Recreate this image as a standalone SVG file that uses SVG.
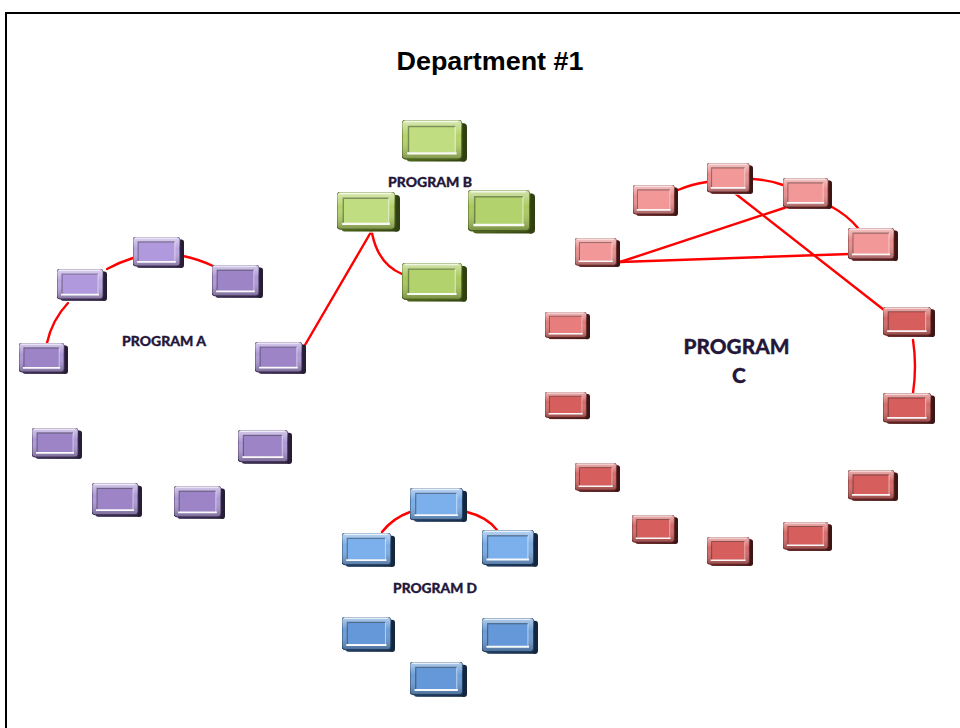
<svg xmlns="http://www.w3.org/2000/svg" xmlns:xlink="http://www.w3.org/1999/xlink" width="960" height="728" viewBox="0 0 960 728">
  <style>
    .title { font-family: "Liberation Sans", Arial, sans-serif; font-weight: bold; font-size: 26px; fill: #000; }
    .lbl { font-family: Lato, "Open Sans", sans-serif; font-weight: 900; fill: #24173a; stroke: #24173a; stroke-width: 0.3; }
    .wire { fill: none; stroke: #ff0000; stroke-width: 2.4; stroke-linecap: round; }
    .purple { --dark: #3f3058; --frame: #ad98d6; --face: #9c84c6; }
    .purple.lt { --frame: #bba7e0; --face: #b099dc; }
    .green { --dark: #4f681c; --frame: #a9c95e; --face: #b2d26d; }
    .green.lt { --frame: #b4d36b; --face: #c0dd82; }
    .blue { --dark: #213f66; --frame: #6a9cd6; --face: #6598d8; }
    .blue.lt { --frame: #7aace6; --face: #7cb0ec; }
    .red { --dark: #652222; --frame: #d46a68; --face: #d65e5c; }
    .red.lt { --frame: #e98e8e; --face: #f39898; }
    .red.md { --frame: #e07b7a; --face: #e77d7c; }
  </style>
  <defs>
    <linearGradient id="sheen" x1="0" y1="0" x2="0" y2="1">
      <stop offset="0" stop-color="#fff" stop-opacity="0.5"/>
      <stop offset="0.4" stop-color="#fff" stop-opacity="0"/>
      <stop offset="1" stop-color="#000" stop-opacity="0.3"/>
    </linearGradient>
    <linearGradient id="side" x1="0" y1="0" x2="1" y2="0">
      <stop offset="0" stop-color="#000" stop-opacity="0"/>
      <stop offset="1" stop-color="#000" stop-opacity="0.4"/>
    </linearGradient>
    <!-- bevelled block, drawn in a 50x33 box and stretched per node -->
    <symbol id="box" viewBox="0 0 50 33" preserveAspectRatio="none">
      <rect x="3.5" y="2.5" width="46.5" height="29.5" rx="3" style="fill:var(--dark)"/>
      <rect x="3.5" y="2.5" width="46.5" height="29.5" rx="3" fill="url(#side)"/>
      <rect x="0" y="0" width="46" height="30" rx="3" style="fill:var(--frame);stroke:var(--dark)" stroke-width="0.9"/>
      <rect x="0" y="0" width="46" height="30" rx="3" fill="url(#sheen)"/>
      <rect x="5" y="5" width="36" height="20" style="fill:var(--face)"/>
      <path d="M5,25 V5 H41" fill="none" stroke="#000" stroke-opacity="0.35" stroke-width="1.1"/>
      <path d="M41,5 V25" fill="none" stroke="#fff" stroke-opacity="0.5" stroke-width="1"/>
      <path d="M4,25.6 H42" fill="none" stroke="#fff" stroke-width="1.8" stroke-opacity="0.95"/>
      <path d="M2,1.3 H43" fill="none" stroke="#fff" stroke-width="1" stroke-opacity="0.7"/>
      <rect x="2" y="31.8" width="44" height="1.2" fill="#fff" opacity="0.6"/>
    </symbol>
  </defs>

  <rect x="0" y="0" width="960" height="728" fill="#fff"/>
  <rect x="6" y="13" width="980" height="740" fill="none" stroke="#000" stroke-width="2"/>

  <text class="title" x="490" y="70" text-anchor="middle" textLength="187" lengthAdjust="spacingAndGlyphs">Department #1</text>

  <!-- connectors -->
  <g id="connectors">
    <path class="wire" d="M47,343 Q52,320 68,303"/>
    <path class="wire" d="M107,269 Q120,262 133,258"/>
    <path class="wire" d="M183,256 Q198,259 213,266"/>
    <path class="wire" d="M298,357 L371,232"/>
    <path class="wire" d="M372,233 Q378,264 402,274"/>
    <path class="wire" d="M382,532 Q393,518 410,512"/>
    <path class="wire" d="M467,512 Q487,517 497,530"/>
    <path class="wire" d="M678,190 Q692,184 707,182"/>
    <path class="wire" d="M753,179 Q769,180 783,185"/>
    <path class="wire" d="M832,207 Q847,215 858,228"/>
    <path class="wire" d="M620,262 L787,207"/>
    <path class="wire" d="M620,262 L850,254"/>
    <path class="wire" d="M732,191 L884,310"/>
    <path class="wire" d="M913,340 Q917,366 913,393"/>
  </g>

  <!-- Program A -->
  <g id="prog-a">
    <text class="lbl" x="164" y="346" font-size="13" text-anchor="middle" textLength="84" lengthAdjust="spacingAndGlyphs">PROGRAM A</text>
    <g id="a1" class="purple lt"><use xlink:href="#box" x="133" y="237" width="51" height="32"/></g>
    <g id="a2" class="purple lt"><use xlink:href="#box" x="57" y="269" width="50" height="33"/></g>
    <g id="a3" class="purple"><use xlink:href="#box" x="212" y="265" width="51" height="34"/></g>
    <g id="a4" class="purple"><use xlink:href="#box" x="19" y="343" width="49" height="32"/></g>
    <g id="a5" class="purple"><use xlink:href="#box" x="255" y="342" width="51" height="33"/></g>
    <g id="a6" class="purple"><use xlink:href="#box" x="32" y="428" width="50" height="32"/></g>
    <g id="a7" class="purple"><use xlink:href="#box" x="238" y="430" width="54" height="35"/></g>
    <g id="a8" class="purple"><use xlink:href="#box" x="92" y="483" width="50" height="35"/></g>
    <g id="a9" class="purple"><use xlink:href="#box" x="174" y="486" width="51" height="34"/></g>
  </g>

  <!-- Program B -->
  <g id="prog-b">
    <text class="lbl" x="430" y="187" font-size="13" text-anchor="middle" textLength="84" lengthAdjust="spacingAndGlyphs">PROGRAM B</text>
    <g id="b1" class="green lt"><use xlink:href="#box" x="402" y="120" width="65" height="43"/></g>
    <g id="b2" class="green lt"><use xlink:href="#box" x="337" y="192" width="63" height="41"/></g>
    <g id="b3" class="green"><use xlink:href="#box" x="468" y="190" width="67" height="45"/></g>
    <g id="b4" class="green"><use xlink:href="#box" x="402" y="263" width="65" height="40"/></g>
  </g>

  <!-- Program D -->
  <g id="prog-d">
    <text class="lbl" x="435" y="593" font-size="13" text-anchor="middle" textLength="84" lengthAdjust="spacingAndGlyphs">PROGRAM D</text>
    <g id="d1" class="blue lt"><use xlink:href="#box" x="410" y="488" width="57" height="35"/></g>
    <g id="d2" class="blue lt"><use xlink:href="#box" x="342" y="533" width="53" height="35"/></g>
    <g id="d3" class="blue lt"><use xlink:href="#box" x="482" y="530" width="56" height="38"/></g>
    <g id="d4" class="blue"><use xlink:href="#box" x="342" y="617" width="53" height="36"/></g>
    <g id="d5" class="blue"><use xlink:href="#box" x="482" y="618" width="56" height="37"/></g>
    <g id="d6" class="blue"><use xlink:href="#box" x="410" y="662" width="57" height="36"/></g>
  </g>

  <!-- Program C -->
  <g id="prog-c">
    <text class="lbl" font-size="21" text-anchor="middle">
      <tspan x="739" y="354" textLength="106" lengthAdjust="spacingAndGlyphs">PROGRAM</tspan>
      <tspan x="739" y="383">C</tspan>
    </text>
    <g id="c1" class="red lt"><use xlink:href="#box" x="633" y="185" width="45" height="32"/></g>
    <g id="c2" class="red lt"><use xlink:href="#box" x="707" y="163" width="46" height="32"/></g>
    <g id="c3" class="red lt"><use xlink:href="#box" x="783" y="178" width="49" height="32"/></g>
    <g id="c4" class="red lt"><use xlink:href="#box" x="848" y="228" width="50" height="34"/></g>
    <g id="c5" class="red lt"><use xlink:href="#box" x="575" y="238" width="45" height="30"/></g>
    <g id="c6" class="red md"><use xlink:href="#box" x="545" y="312" width="45" height="28"/></g>
    <g id="c7" class="red"><use xlink:href="#box" x="545" y="392" width="45" height="28"/></g>
    <g id="c8" class="red"><use xlink:href="#box" x="883" y="307" width="52" height="31"/></g>
    <g id="c9" class="red"><use xlink:href="#box" x="883" y="393" width="52" height="32"/></g>
    <g id="c10" class="red"><use xlink:href="#box" x="575" y="463" width="45" height="30"/></g>
    <g id="c11" class="red"><use xlink:href="#box" x="632" y="515" width="46" height="30"/></g>
    <g id="c12" class="red"><use xlink:href="#box" x="707" y="537" width="46" height="30"/></g>
    <g id="c13" class="red"><use xlink:href="#box" x="783" y="522" width="49" height="30"/></g>
    <g id="c14" class="red"><use xlink:href="#box" x="848" y="470" width="50" height="32"/></g>
  </g>
</svg>
